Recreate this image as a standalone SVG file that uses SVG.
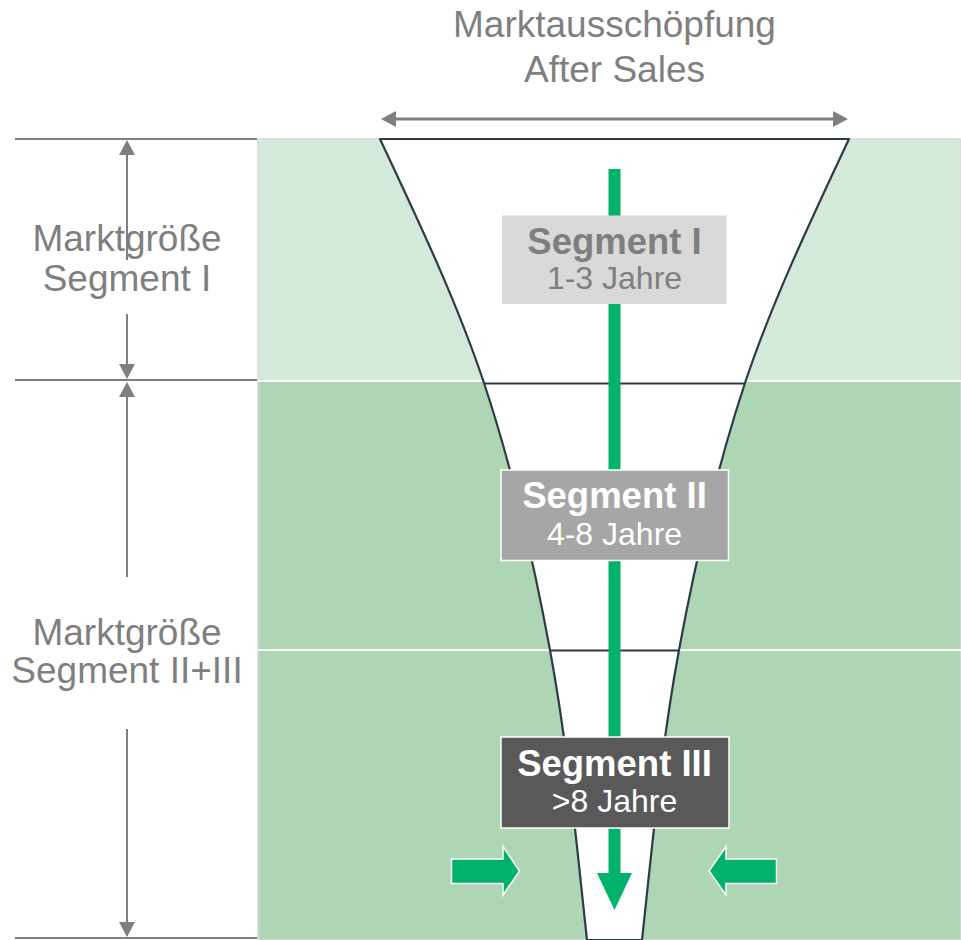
<svg xmlns="http://www.w3.org/2000/svg" width="961" height="940" viewBox="0 0 961 940">
  <style>
    .lbl { font-family: "Liberation Sans", Arial, sans-serif; font-size: 37px; fill: #7f7f7f; text-anchor: middle; }
    .head { font-family: "Liberation Sans", Arial, sans-serif; font-size: 36.5px; font-weight: bold; text-anchor: middle; }
    .sub { font-family: "Liberation Sans", Arial, sans-serif; font-size: 32px; text-anchor: middle; }
    .dim { stroke: #7f7f7f; stroke-width: 2; fill: none; }
    .flow { fill: #00b26b; }
    .side { fill: #00b26b; stroke: #ffffff; stroke-width: 1.5; }
  </style>
  <defs>
    <marker id="gh" markerWidth="16" markerHeight="16" refX="0" refY="8" orient="auto-start-reverse" markerUnits="userSpaceOnUse">
      <path d="M0,0 L15,8 L0,16 Z" fill="#7f7f7f"/>
    </marker>
  </defs>

  <rect width="961" height="940" fill="#ffffff"/>

  <!-- market bands -->
  <g id="bands">
    <rect x="258" y="139" width="703" height="242" fill="#d3e9d9" stroke="#d9d9d9" stroke-width="1.5"/>
    <rect x="258" y="381" width="703" height="559" fill="#aed6b4" stroke="#d9d9d9" stroke-width="1.5"/>
    <line x1="258" y1="381" x2="961" y2="381" stroke="#ffffff" stroke-width="2"/>
    <line x1="258" y1="650" x2="961" y2="650" stroke="#ffffff" stroke-width="2"/>
  </g>

  <!-- funnel -->
  <g id="funnel">
    <path d="M380,139 C418.2,220.3 456.9,301.7 484,383 C513.6,472 533.5,561 550,650 C567.9,746.7 576.4,843.3 587,940 L642,940 C652.6,843.3 661.1,746.7 679,650 C695.5,561 715.4,472 745,383 C772.1,301.7 810.8,220.3 849,139 Z" fill="#ffffff" stroke="#2d3b48" stroke-width="2.2" stroke-linejoin="round"/>
    <line x1="484" y1="383.5" x2="745" y2="383.5" stroke="#2d3b48" stroke-width="2"/>
    <line x1="550" y1="650.5" x2="679" y2="650.5" stroke="#2d3b48" stroke-width="2"/>
  </g>

  <!-- connectors -->
  <g id="connectors">
    <line x1="396" y1="119" x2="833" y2="119" stroke="#7f7f7f" stroke-width="3" marker-start="url(#gh)" marker-end="url(#gh)"/>
    <line x1="15" y1="139" x2="257" y2="139" class="dim"/>
    <line x1="15" y1="380" x2="257" y2="380" class="dim"/>
    <line x1="15" y1="938" x2="257" y2="938" class="dim"/>
    <line x1="127" y1="260" x2="127" y2="155" class="dim" marker-end="url(#gh)"/>
    <line x1="127" y1="314" x2="127" y2="364" class="dim" marker-end="url(#gh)"/>
    <line x1="127" y1="577" x2="127" y2="397" class="dim" marker-end="url(#gh)"/>
    <line x1="127" y1="729" x2="127" y2="922" class="dim" marker-end="url(#gh)"/>
    <g id="flow-arrow">
      <rect x="608.5" y="169" width="12" height="705" class="flow"/>
      <polygon points="597,873 632,873 614.5,910" class="flow"/>
    </g>
    <polygon id="push-left" points="451.5,859 503,859 503,846.5 519.5,871 503,895 503,883.5 451.5,883.5" class="side"/>
    <polygon id="push-right" points="776.5,859 726,859 726,846.5 709,871 726,895 726,883.5 776.5,883.5" class="side"/>
  </g>

  <g id="segment-1">
    <rect x="502" y="215.5" width="224.5" height="88.5" fill="#d9d9d9"/>
    <text x="614.5" y="254" class="head" fill="#7f7f7f">Segment I</text>
    <text x="614.5" y="289" class="sub" fill="#7f7f7f">1-3 Jahre</text>
  </g>

  <g id="segment-2">
    <rect x="501" y="470" width="227.5" height="90.5" fill="#a6a6a6" stroke="#ffffff" stroke-width="1.5"/>
    <text x="614.5" y="508" class="head" fill="#ffffff">Segment II</text>
    <text x="614.5" y="545" class="sub" fill="#ffffff">4-8 Jahre</text>
  </g>

  <g id="segment-3">
    <rect x="501" y="737" width="228" height="91" fill="#595959" stroke="#ffffff" stroke-width="1.5"/>
    <text x="614.5" y="776" class="head" fill="#ffffff">Segment III</text>
    <text x="614.5" y="812" class="sub" fill="#ffffff">&gt;8 Jahre</text>
  </g>

  <g id="title">
    <text x="614.5" y="37" class="lbl">Marktausschöpfung</text>
    <text x="614.5" y="82" class="lbl">After Sales</text>
  </g>

  <g id="size-1">
    <text x="127" y="251" class="lbl">Marktgröße</text>
    <text x="127" y="291" class="lbl">Segment I</text>
  </g>

  <g id="size-2">
    <text x="127" y="645" class="lbl">Marktgröße</text>
    <text x="127" y="683" class="lbl">Segment II+III</text>
  </g>
</svg>
